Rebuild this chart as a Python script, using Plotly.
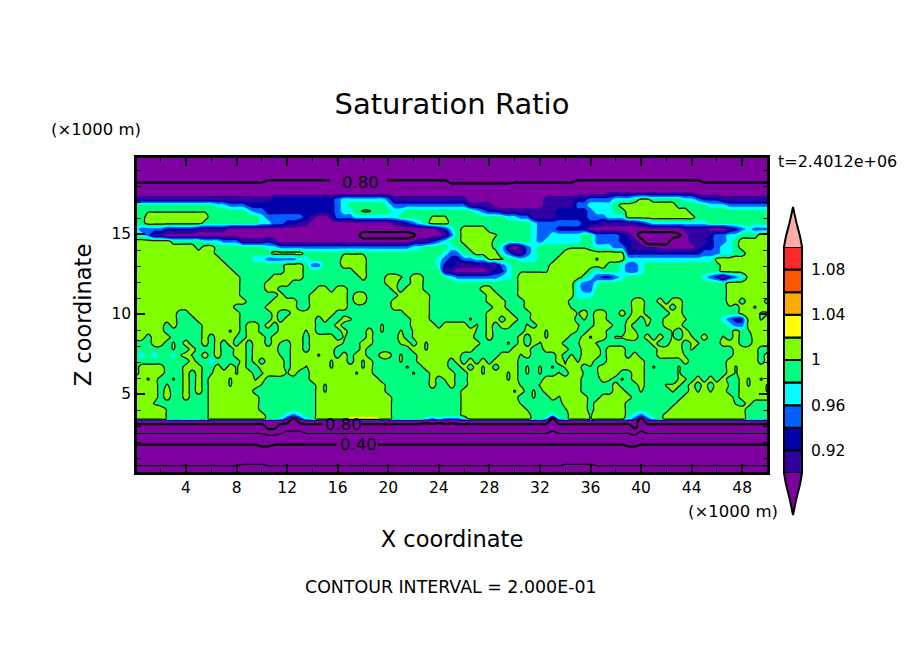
import plotly.graph_objects as go

# grid: x every 0.5 km, 10 columns per chunk; rows run top to bottom
x_km = [i * 0.5 for i in range(101)]
z_km = [19.8, 19.425, 19.05, 18.675, 18.3, 17.925, 17.55, 17.175, 16.8, 16.425,
        16.05, 15.675, 15.3, 14.925, 14.55, 14.175, 13.8, 13.425, 13.05, 12.675,
        12.3, 11.925, 11.55, 11.175, 10.8, 10.425, 10.05, 9.675, 9.3, 8.925,
        8.55, 8.175, 7.8, 7.425, 7.05, 6.675, 6.3, 5.925, 5.55, 5.175,
        4.8, 4.425, 4.05, 3.675, 3.44, 3.3, 2.925, 2.55, 2.175, 1.8,
        1.425, 1.05, 0.675, 0.3, -0.075]

# saturation ratio, one letter per grid point
code_values = {"X": 0.10, "Z": 0.16, "Y": 0.21, "A": 0.23, "B": 0.28, "C": 0.32, "D": 0.39,
               "O": 0.42, "E": 0.50, "M": 0.55, "F": 0.605, "N": 0.65, "G": 0.70, "L": 0.77,
               "J": 0.785, "K": 0.815, "I": 0.85, "p": 0.89, "q": 0.91, "r": 0.93, "s": 0.95,
               "t": 0.97, "g": 0.99, "f": 0.998, "m": 1.002, "l": 1.01, "y": 1.03}

sat_upper = [
    "GGGGGGGGGG GGGGGGGGGG GGGGGGGGGG GGGGGGGGGG GGGGGGGGGG GGGGGGGGGG GGGGGGGGGG GGGGGGGGGG GGGGGGGGGG GGGGGGGGGG G",
    "GGGGGGGGGG GGGGGGGGGG GGGGGGGGGG GGGGGGGGGG GGGGGGGGGG GGGGGGGGGG GGGGGGGGGG GGGGGGGGGG GGGGGGGGGG GGGGGGGGGG G",
    "GGGGGGGGGG GGGGGGGGGG GGGGGGGGGG GGGGGGGGGG GGGGGGGGGG GGGGGGGGGG GGGGGGGGGG GGGGGGGGGG GGGGGGGGGG GGGGGGGGGG G",
    "GGGGGGGGGG GGGGGGGGGG GGGGGGGGGG GGGGGGGGGG GGGGGGGGGG GGGGGGGGGG GGGGGGGGGG GGGGGGGGGG GGGGGGGGGG GGGGGGGGGG G",
    "JJJJJJJJJJ JJJJJJJJJJ JKKKKKKKKK KKKKKKKKKK KKKKKKKKKK LLLLLLLLLL JJJJJJJJJJ KKKKKKKKKK KKKKKKKKKK JJJJJJJJJJ J",
    "IIIIIIIIII IIIIIIIIII IIIIIIIIII IIIIIIIIII IIIIIIIIII IIIIIIIIII IIIIIIIIII IIIIIIIIII IIIIIIIIII IIIIIIIIII I",
    "pppppppppp pppppppppp pppppppppp pppppppppp pppppppppp pppppppppp pppppppppp pppppqqqqq qqqqqqqqqp pppppppppp p",
    "qqqqqqqqqq qqqqqqqqqq qqrrrrrrrr rrsttttttt sqqqqqqqqq qqqppppppp pppppqqqqq rrsssstttg mmgggggtts rrrqqqqqqq q",
    "gggggggggg gggttsssrr rrrrrrrrrr rrstgggggg tsssssssss sssqqqqppp pppppqqqqq ssttttglll llllllgggg gtttssssss s",
    "ggffffffff ffggggggts srrrrrrrrr rrsttgmmgg gttggggggg ggggtsrrqq qqqqqqqrrr rrstttggll llllllllgg gggggggggg g",
    "ggllllllll llgggggggg tssssssrqp pqsssttttt ttgggggmmm gggggggggt tssqqqqrrr rrssstttll lllllllllg gggggggggg g",
    "ggllllllll lggggggggg ttssrrqqpp pppppppppp pqqrstglll gggggggggg gggtssssss srrrqqqqqq rstttttttt tggggggggg g",
    "tssssrrrrr qqqqqppppp pppppppppp pppppppppp ppppppppqr tgllllgggg gggtsssrrr rrpppppppp pppppppqqq qpppqrstss s",
    "ttsqqppppp pppppppppp pppppppppp ppppppGGGG GGGGLppppq sglllllmgg gggtsstttt tggssssrqp GGGGGGLpqq qrssttgggl l",
    "llllllgggg gtttsssqqq qrqppppppp pppppppppp ppppqqqrst gglllllggg gggtsttttt tggssssrrq pGGGGpppqq qrsstgllll l",
    "llllllllll gllggggggg gttsssssss ssssssssss ssssttgggg tggllllgtq pqstgggggf ffgtttssrq qqqppppppq rrsttgllll l",
    "llllllllll lllggggggg gglllllggg gggffffggg gggggggggt ssggllllts qqstggggll llllllllrr rrrrrrrrrr ssstt gglll l",
    "llllllllll llllgggggt tsssssttgg gggllllggg ggggggggts rrssttmmmg gtttggglll lllflllltt tttttttttt ttllllllll l",
    "llllllllll lllllggggg gggglllgss gggllllggg ggggggggtr rqqqqqqqst ggggggllll lllllggtss tggggggggg gggllllll l l",
    "llllllllll llllllgggg gggglllggg gggggllggg gggggggggq qpppppqrrt gfffffllll llgtgggtss tggggggggg gggllllll l l",
    "llllllllll lllllllggg gglllllggg ggggggl ggg llmgllgggg tssssssstt glllllllll lgtsrrstgg gggggggggg tsrprstlll l",
    "llllllllll lllllllggg gllllggggg gggggggggg llggllgggg gggggggggg glllllllll tsstgggggg gggggggggg ggggllllll l",
    "llllllllll lllllllggg gllggggggl lgllgggggg glglllgggg gggggllggg glllllllll tssggggggg gggggggggg ggggllllll l",
    "llllllllll lllllllggg ggglggggll llllgllggg gglllllggg ggggggllgg glllllllll tttggggggg gggggggggg ggggllllll l",
    "llllllllll llllllllgg ggllllggll llllgllggg gllllllggg gggggglllg gglllllllg gggggggggl lgglgllggg ggggllglll g",
]

sat_middle = [
    "llllllllll llllllgggg glllllggll llllgggggg gllllllggg gggggggllg gglllllllf gggggggggl lggglglggg ggggfgllfl l",
    "lllllllggl lllllllggg gglgglllll llgggggggg gggllllggg ggggggllll ggglllllll flgllgglgl lggggllggg gggggglllf f",
    "lllllllggg lllllllggg gglglllllg lgglmggggg gggglllggg gggmggllgl lgglllllll gmgllgggml glgglllmgg gggtsrrllf l",
    "lllllglggg gllllllgll glgllllllg gglggggggm ggggllllgl lllgmglgll ggmglllllm mgglllgglg gmgglllggg ggggtsslll l",
    "lllllggggg gllllflgll gggllllflg ggglggglgm ggmgmlllll llllfglggg gglllfllll fglllggglm gggggmglgg ggggglgfll l",
    "llglllgggg glglllfgll lglllllgll llgmggglgg gglgmmllll llllgglggg glgllflllg glfllgmmll glglgmglmg lggmglggll l",
    "gggllgmglg glglglglgl lglfgllgll lllfggllgg ggmlglflll lllllggggm glglflllgg fllfgggggg gglggllgmm ggglllggll l",
    "ggggggmggl ggglggllgl lllggllgll llgggglggg ggggllflll llllgggggg lllggllllg glllglllgg gggllllgmg gggggllllg g",
    "gtgtggtflf glglggllgl lllfgllllf llglgllggl lgmgglllll llggggggll lflgggglgm glllglllgl gggllllfgg gggggllllg l",
    "gggggggggl ggtgggglgl glllglllll lfllglflgg ggmgglllll glglglglll lgggggglfl fllgglllll lgggggglgg gggglllllg l",
    "gllllgggll lgglglflgg llllgllfll lfllllflgg gggmggllll gglglflgll lgmgmgmgml lgffllllll lgmgggmggg gggglfllll l",
    "gllllggglg lgflllfllg flllflggll lllllfllgg ggggmgglll lggllflllf lgmgmggmgl lffflllggl lgggggmggg gggglfllll l",
    "llflggmglg lglllflllf lgggggggll lllllllllg ggggggglgm lggllllllf lgggglllll lggglmgmgl lgggggmmgl glglgglflf l",
    "llllgmgglg lglllfllll fggggggggl flllllllll ggggggglgg lgglllllll lfggmlllll lggggglggg lgggmmmglg lgllfglfll f",
    "llllglgglg lglllllllg gggggggggl flllllllll gggggggggg ggllllllll flgmglllll lgggggllgg mggggmgglf lfllggllll f",
    "llllglgglg ggllllllll gggggggggl llllllllll lggggggggg ggllllllll lggmgglfll llgglllllg ggggggglll lllllgllll l",
    "lllfgggggg ggllllllll gggggggggl llllllllll lggggggggg ggllllllll lffgggggll llglllllgg ggggggllll lllllfglgg g",
    "lllllfgggg ggllllllll gggggggggl llllllllll lggggggggg ggllllllll llfgggggfl llglllllgg ggggglllll lllllllggg g",
    "lllllfgggg ggllllllll lgggtstggl llllllllll lggggggggg ggllllllll lllgggtggl llflllllgt stggllllll lllllllggg g",
    "lllllfgggg ggllllllll lggtrLrtgl llllyyyyyl lgggggtsts sstlllllll lllggtLtgl llflllllts Lstgllllll lllllllggg t",
]

sat_lower = [
    "pppppppppp pppppppppp ppppIGIppp pppppppppp ppppppIpIp Ippppppppp ppppppGppp pppppppppp Gppppppppp pppppppppp p",
    "GGGGGGGGGG GGGGGGGGGG GIIGGGGGGG GGGGGGGGGG GGGGGGGGGG GGGGGGGGGG GGGGGGGGGG GGGGGGGGGI GGGGGGGGGG GGGGGGGGGG G",
    "FFFFFFFFFF FFFFFFFFFF FNNFMMMFFF FFFFFFFFFF FFFFFFFFFF FFFFFFFFFF FFFFFFMFFF FFFFFFFFFN MFFFFFFFFF FFFFFFFFFF F",
    "EEEEEEEEEE EEEEEEEEEE EEEEEEEEEE EEEEEEEEEE EEEEEEEEEE EEEEEEEEEE EEEEEEEEEE EEEEEEEEEE EEEEEEEEEE EEEEEEEEEE E",
    "DDDDDDDDDD DDDDDDDDDD OODDDDDDDD DDDDDDDDDD DDDDDDDDDD DDDDDDDDDD DDDDDDDDDD DDDDDDDDOO DDDDDDDDDD DDDDDDDDDD D",
    "CCCCCCCCCC CCCCCCCCCC CCCCCCCCCC CCCCCCCCCC CCCCCCCCCC CCCCCCCCCC CCCCCCCCCC CCCCCCCCCC CCCCCCCCCC CCCCCCCCCC C",
    "BBBBBBBBBB BBBBBBBBBB BBBBBBBBBB BBBBBBBBBB BBBBBBBBBB BBBBBBBBBB BBBBBBBBBB BBBBBBBBBB BBBBBBBBBB BBBBBBBBBB B",
    "AAAAAAAAAA AAAAAAAYYY YAAAAAAAAA AAAAAAAAAA AAAAAAAAAA AAAAAAAAAA AAAAAAAAYY YYYAAAAAAA AAAAAAAAAA AAAAAAAAAA A",
    "ZZZZZZZZZZ ZZZZZZZZZZ ZZZZZZZZZZ ZZZZZZZZZZ ZZZZZZZZZZ ZZZZZZZZZZ ZZZZZZZZZZ ZZZZZZZZZZ ZZZZZZZZZZ ZZZZZZZZZZ Z",
    "XXXXXXXXXX XXXXXXXXXX XXXXXXXXXX XXXXXXXXXX XXXXXXXXXX XXXXXXXXXX XXXXXXXXXX XXXXXXXXXX XXXXXXXXXX XXXXXXXXXX X",
]

band_edges = [0.90, 0.92, 0.94, 0.96, 0.98, 1.00, 1.02, 1.04, 1.06, 1.08]
band_colors = ["#3000a0", "#0000aa", "#0060ff", "#00ffff", "#00ff80",
               "#80ff00", "#ffff00", "#ffaa00", "#ff5500", "#ff2828"]
below_color = "#7f00a0"
above_color = "#ffaaaa"
bar_ticks = [0.92, 0.96, 1.00, 1.04, 1.08]
bar_labels = ["0.92", "0.96", "1", "1.04", "1.08"]

x_ticks = [4, 8, 12, 16, 20, 24, 28, 32, 36, 40, 44, 48]
x_minor = [2, 6, 10, 14, 18, 22, 26, 30, 34, 38, 42, 46]
z_ticks = [5, 10, 15]
z_minor = [1, 2, 3, 4, 6, 7, 8, 9, 11, 12, 13, 14, 16, 17, 18, 19]

W, H = 904, 654


def fx(px):
    return px / W


def fy(py):
    return 1 - py / H


rows = sat_upper + sat_middle + sat_lower
grid = []
for r in rows:
    r = r.replace(" ", "")
    # a hand-read row can be a point short or long at the right edge
    r = (r + r[-1] * 101)[:101]
    grid.append([code_values[c] for c in r])

# one flat colour per 0.02 band, with the two open ends outside
all_colors = [below_color] + band_colors + [above_color]
scale = []
for i, c in enumerate(all_colors):
    scale.append([i / len(all_colors), c])
    scale.append([(i + 1) / len(all_colors), c])

fig = go.Figure()
fig.add_trace(go.Contour(x=x_km, y=z_km[::-1], z=grid[::-1], colorscale=scale, zmin=0.88, zmax=1.12,
                         autocontour=False, contours=dict(start=0.90, end=1.10, size=0.02, coloring="fill", showlines=False),
                         line=dict(width=0), showscale=False, hoverinfo="skip"))
fig.add_trace(go.Contour(x=x_km, y=z_km[::-1], z=grid[::-1], autocontour=False,
                         contours=dict(start=0.2, end=1.0, size=0.4, coloring="none"),
                         line=dict(color="black", width=1.2), showscale=False, hoverinfo="skip"))
fig.add_trace(go.Contour(x=x_km, y=z_km[::-1], z=grid[::-1], autocontour=False,
                         contours=dict(start=0.4, end=0.8, size=0.4, coloring="none"),
                         line=dict(color="black", width=2.2), showscale=False, hoverinfo="skip"))

# colour bar: stacked segments on its own axes, tips drawn past both ends
fig.add_trace(go.Bar(x=[0] * len(band_edges), y=[0.02] * len(band_edges), base=band_edges, width=1,
                     marker=dict(color=band_colors, line=dict(color="black", width=2)),
                     xaxis="x2", yaxis="y2", showlegend=False, hoverinfo="skip"))
tip_h = [0, 0.25, 0.62, 1, 0.62, 0.25, 0]
tip_w = [-0.5, -0.4, -0.185, 0, 0.185, 0.4, 0.5]
fig.add_trace(go.Scatter(x=tip_w, y=[1.10 + h * 0.0354 for h in tip_h], fill="toself", fillcolor=above_color,
                         mode="lines", line=dict(color="black", width=2), xaxis="x2", yaxis="y2",
                         showlegend=False, hoverinfo="skip"))
fig.add_trace(go.Scatter(x=tip_w, y=[0.90 - h * 0.0372 for h in tip_h], fill="toself", fillcolor=below_color,
                         mode="lines", line=dict(color="black", width=2), xaxis="x2", yaxis="y2",
                         showlegend=False, hoverinfo="skip"))

font = "DejaVu Sans"
fig.update_layout(
    width=W, height=H, margin=dict(l=0, r=0, t=0, b=0), paper_bgcolor="white", plot_bgcolor="white",
    font=dict(family=font, color="black"), showlegend=False, barmode="overlay",
    title=dict(text="Saturation Ratio", x=fx(452), y=fy(104), xanchor="center", yanchor="middle",
               font=dict(size=29, family=font, color="black")),
    xaxis=dict(domain=[fx(137), fx(767)], range=[0.12, 49.96], tickmode="array", tickvals=x_ticks, ticks="inside",
               ticklen=8, tickwidth=2, tickcolor="black", showline=True, linewidth=2.5, linecolor="black",
               mirror="ticks", showgrid=False, zeroline=False, tickfont=dict(size=15.5),
               minor=dict(tickmode="array", tickvals=x_minor, ticks="inside", ticklen=4, tickwidth=1, tickcolor="black", showgrid=False),
               title=dict(text="X coordinate", font=dict(size=22.5), standoff=35)),
    yaxis=dict(domain=[fy(472), fy(158)], range=[0.125, 19.75], tickmode="array", tickvals=z_ticks, ticks="inside",
               ticklen=8, tickwidth=2, tickcolor="black", showline=True, linewidth=2.5, linecolor="black",
               mirror="ticks", showgrid=False, zeroline=False, tickfont=dict(size=15.5),
               minor=dict(tickmode="array", tickvals=z_minor, ticks="inside", ticklen=4, tickwidth=1, tickcolor="black", showgrid=False),
               title=dict(text="Z coordinate", font=dict(size=22.5), standoff=14)),
    xaxis2=dict(domain=[fx(782.2), fx(803.8)], range=[-0.6, 0.6], visible=False, anchor="y2"),
    yaxis2=dict(domain=[fy(516), fy(206)], range=[0.8628 - 0.0009, 1.1354 + 0.0009], anchor="x2", side="right",
                tickmode="array", tickvals=bar_ticks, ticktext=bar_labels, ticks="outside", ticklen=3,
                tickcolor="rgba(0,0,0,0)", showgrid=False, zeroline=False, showline=False, tickfont=dict(size=15.5)),
)

# line labels sit in gaps cut out of their contours
label_gaps = [(15.4, 19.9, 18.0, 18.5), (14.8, 17.9, 2.9, 3.25), (15.9, 19.2, 1.65, 2.05)]
for x0, x1, y0, y1 in label_gaps:
    fig.add_shape(type="rect", xref="x", yref="y", x0=x0, x1=x1, y0=y0, y1=y1, fillcolor=below_color, line_width=0)
line_labels = [("0.80", 360, 182), ("0.80", 343, 424), ("0.40", 358, 444)]
texts = [("(×1000 m)", 95.5, 129, 16.5), ("(×1000 m)", 733, 511, 16.5), ("t=2.4012e+06", 837, 161, 16),
         ("CONTOUR INTERVAL = 2.000E-01", 451, 587, 17.4)]
for txt, px, py, size in [(t, a, b, 16.5) for t, a, b in line_labels] + texts:
    fig.add_annotation(text=txt, x=fx(px), y=fy(py), xref="paper", yref="paper", xanchor="center", yanchor="middle",
                       showarrow=False, font=dict(size=size))

fig.write_html("out.html", config={"displayModeBar": False}, post_script="document.body.style.margin='0';")
